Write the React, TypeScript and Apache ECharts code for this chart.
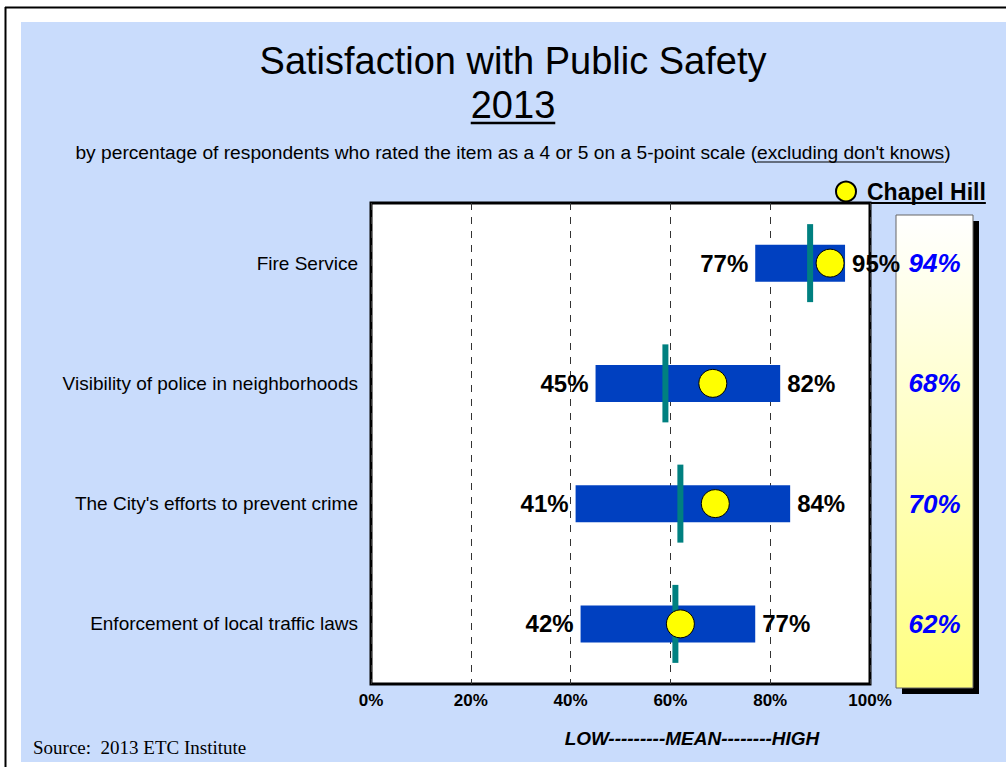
import React, { useEffect, useRef } from "react";
import * as echarts from "echarts";

const categories = [
  "Fire Service",
  "Visibility of police in neighborhoods",
  "The City's efforts to prevent crime",
  "Enforcement of local traffic laws",
];
const lowValues = [77, 45, 41, 42];
const highValues = [95, 82, 84, 77];
const meanValues = [88, 59, 62, 61];
const chapelHillValues = [94, 68, 70, 62];
const chapelHillMarkers = [92, 68.5, 69, 62];
const xMin = 0;
const xMax = 100;
const xInterval = 20;

const titleText = "Satisfaction with Public Safety";
const yearText = "2013";
const subPre = "by percentage of respondents who rated the item as a 4 or 5 on a 5-point scale (";
const subUnder = "excluding don't knows";
const subPost = ")";
const scaleText = "LOW---------MEAN--------HIGH";
const sourceText = "Source:  2013 ETC Institute";
const legendName = "Chapel Hill";

const SANS = '"Liberation Sans", Arial, sans-serif';
const SERIF = '"Liberation Serif", "Times New Roman", serif';

function measure(text: string, font: string): number {
  const c = document.createElement("canvas").getContext("2d");
  if (!c) return text.length * 8;
  c.font = font;
  return c.measureText(text).width;
}

export default function App() {
  const ref = useRef<HTMLDivElement>(null);
  useEffect(() => {
    document.body.style.margin = "0";
    const chart = echarts.init(ref.current!, null, { renderer: "svg", width: 1006, height: 767 });

    const subFont = `19.2px ${SANS}`;
    const subFull = subPre + subUnder + subPost;
    const subW = measure(subFull, subFont);
    const subLeft = 513 - subW / 2;
    const ulStart = subLeft + measure(subPre, subFont);
    const ulEnd = ulStart + measure(subUnder, subFont);
    const yearW = measure(yearText, `38px ${SANS}`);
    const legW = measure(legendName, `bold 23px ${SANS}`);

    const labelBase = {
      show: true,
      fontSize: 24,
      fontWeight: "bold" as const,
      color: "#000",
      fontFamily: SANS,
    };

    chart.setOption({
      animation: false,
      backgroundColor: "#C9DCFC",
      textStyle: { fontFamily: SANS },
      legend: {
        data: [legendName],
        left: 835,
        top: 180,
        padding: 0,
        itemWidth: 22,
        itemHeight: 20,
        icon: "circle",
        selectedMode: false,
        textStyle: {
          fontSize: 23,
          fontWeight: "bold",
          color: "#000",
          fontFamily: SANS,
          padding: [0, 0, 0, 5],
        },
      },
      grid: [
        {
          left: 371,
          top: 203,
          width: 499,
          height: 481,
          show: true,
          backgroundColor: "#FFFFFF",
          borderColor: "#000",
          borderWidth: 3,
        },
        { left: 896, top: 203, width: 77, height: 481, show: false },
      ],
      xAxis: [
        {
          type: "value",
          min: xMin,
          max: xMax,
          interval: xInterval,
          axisLine: { show: false },
          axisTick: { show: false },
          axisLabel: {
            formatter: "{value}%",
            fontSize: 17,
            fontWeight: "bold",
            color: "#000",
            margin: 8,
            fontFamily: SANS,
          },
          splitLine: {
            show: true,
            lineStyle: { color: "#333", width: 1, type: [7, 7] },
          },
        },
        { type: "value", gridIndex: 1, min: 0, max: 1, show: false },
      ],
      yAxis: [
        {
          type: "category",
          data: categories,
          inverse: true,
          axisLine: { show: false },
          axisTick: { show: false },
          splitLine: { show: false },
          axisLabel: { fontSize: 19, color: "#000", margin: 13, fontFamily: SANS },
        },
        { type: "category", gridIndex: 1, data: categories, inverse: true, show: false },
      ],
      series: [
        {
          type: "bar",
          stack: "range",
          data: lowValues,
          barWidth: 37,
          silent: true,
          itemStyle: { color: "rgba(0,0,0,0)" },
          label: { ...labelBase, position: "insideRight", distance: 7, formatter: "{c}%" },
          z: 3,
        },
        {
          type: "bar",
          stack: "range",
          data: highValues.map((h, i) => ({ value: h - lowValues[i], high: h })),
          barWidth: 37,
          itemStyle: { color: "#0040C0" },
          label: {
            ...labelBase,
            position: "right",
            distance: 7,
            formatter: (p: any) => `${p.data.high}%`,
          },
          z: 3,
        },
        {
          type: "scatter",
          name: "Mean",
          data: meanValues.map((m, i) => [m, categories[i]]),
          symbol: "rect",
          symbolSize: [6, 78],
          itemStyle: { color: "#008080", opacity: 1 },
          z: 4,
        },
        {
          type: "scatter",
          name: legendName,
          data: chapelHillMarkers.map((m, i) => [m, categories[i]]),
          symbol: "circle",
          symbolSize: 28,
          itemStyle: { color: "#FFFF00", borderColor: "#000", borderWidth: 1, opacity: 1 },
          z: 5,
        },
        {
          type: "scatter",
          name: "Chapel Hill values",
          xAxisIndex: 1,
          yAxisIndex: 1,
          data: chapelHillValues.map((v, i) => ({ value: [0.5, categories[i], v] })),
          symbolSize: 1,
          itemStyle: { color: "rgba(0,0,0,0)", opacity: 1 },
          label: {
            show: true,
            position: "inside",
            formatter: (p: any) => `${p.value[2]}%`,
            fontSize: 26,
            fontWeight: "bold",
            fontStyle: "italic",
            color: "#0000FF",
            opacity: 1,
            fontFamily: SANS,
          },
          z: 6,
        },
      ],
      graphic: [
        { type: "rect", shape: { x: 0, y: 0, width: 1006, height: 22 }, style: { fill: "#fff" }, silent: true },
        { type: "rect", shape: { x: 0, y: 0, width: 21, height: 767 }, style: { fill: "#fff" }, silent: true },
        { type: "rect", shape: { x: 0, y: 762, width: 1006, height: 5 }, style: { fill: "#fff" }, silent: true },
        { type: "line", shape: { x1: 5, y1: 7.5, x2: 1006, y2: 7.5 }, style: { stroke: "#000", lineWidth: 2 }, silent: true },
        { type: "line", shape: { x1: 5.5, y1: 7, x2: 5.5, y2: 767 }, style: { stroke: "#000", lineWidth: 2 }, silent: true },
        {
          type: "text",
          x: 513,
          y: 61,
          style: { text: titleText, font: `38px ${SANS}`, fill: "#000", align: "center", verticalAlign: "middle" },
          silent: true,
        },
        {
          type: "text",
          x: 513,
          y: 105,
          style: { text: yearText, font: `38px ${SANS}`, fill: "#000", align: "center", verticalAlign: "middle" },
          silent: true,
        },
        {
          type: "line",
          shape: { x1: 513 - yearW / 2, y1: 123, x2: 513 + yearW / 2, y2: 123 },
          style: { stroke: "#000", lineWidth: 2.5 },
          silent: true,
        },
        {
          type: "text",
          x: 513,
          y: 152,
          style: { text: subFull, font: subFont, fill: "#000", align: "center", verticalAlign: "middle" },
          silent: true,
        },
        {
          type: "line",
          shape: { x1: ulStart, y1: 162, x2: ulEnd, y2: 162 },
          style: { stroke: "#000", lineWidth: 1.2 },
          silent: true,
        },
        {
          type: "line",
          shape: { x1: 867, y1: 203, x2: 867 + legW, y2: 203 },
          style: { stroke: "#000", lineWidth: 2 },
          silent: true,
        },
        { type: "rect", shape: { x: 902, y: 221, width: 77, height: 473 }, style: { fill: "#000" }, silent: true },
        {
          type: "rect",
          shape: { x: 896, y: 215, width: 77, height: 473 },
          style: {
            fill: {
              type: "linear",
              x: 0,
              y: 0,
              x2: 0,
              y2: 1,
              colorStops: [
                { offset: 0, color: "#FFFFFF" },
                { offset: 1, color: "#FFFF80" },
              ],
            },
            stroke: "#666",
            lineWidth: 1,
          },
          silent: true,
        },
        {
          type: "text",
          x: 692,
          y: 738,
          style: {
            text: scaleText,
            font: `italic bold 19px ${SANS}`,
            fill: "#000",
            align: "center",
            verticalAlign: "middle",
          },
          silent: true,
        },
        {
          type: "text",
          x: 33,
          y: 747,
          style: { text: sourceText, font: `19px ${SERIF}`, fill: "#000", align: "left", verticalAlign: "middle" },
          silent: true,
        },
      ],
    });
    return () => chart.dispose();
  }, []);
  return <div ref={ref} style={{ position: "absolute", left: 0, top: 0, width: 1006, height: 767 }} />;
}
